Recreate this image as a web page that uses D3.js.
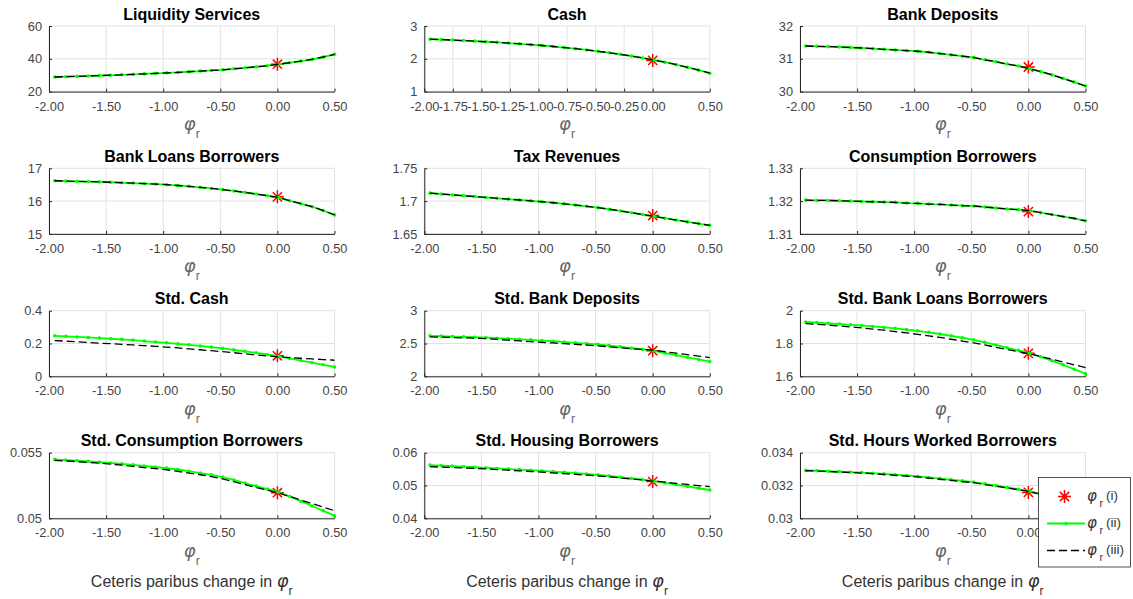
<!DOCTYPE html>
<html><head><meta charset="utf-8">
<script src="https://cdn.jsdelivr.net/npm/d3@7"></script>
<style>
body{margin:0;background:#fff;}
svg{display:block;font-family:"Liberation Sans",Arial,Helvetica,sans-serif;}
</style></head><body>
<svg id="chart" width="1133" height="599"></svg>
<script>
// ---------- data ----------
const phiGrid = [-1.95,-1.852,-1.754,-1.656,-1.558,-1.46,-1.362,-1.264,-1.166,-1.068,-0.97,-0.872,-0.774,-0.676,-0.578,-0.48,-0.382,-0.284,-0.186,-0.088,0.01,0.108,0.206,0.304,0.402,0.5];

const titles = ["Liquidity Services","Cash","Bank Deposits","Bank Loans Borrowers","Tax Revenues","Consumption Borrowers","Std. Cash","Std. Bank Deposits","Std. Bank Loans Borrowers","Std. Consumption Borrowers","Std. Housing Borrowers","Std. Hours Worked Borrowers"];

const xTicksStd = [-2,-1.5,-1,-0.5,0,0.5];
const xTicksCash = [-2,-1.75,-1.5,-1.25,-1,-0.75,-0.5,-0.25,0,0.5];

const yTicksLiquidity = [20,40,60];
const yTicksCash = [1,2,3];
const yTicksDeposits = [30,31,32];
const yTicksLoans = [15,16,17];
const yTicksTax = [1.65,1.7,1.75];
const yTicksCons = [1.31,1.32,1.33];
const yTicksStdCash = [0,0.2,0.4];
const yTicksStdDep = [2,2.5,3];
const yTicksStdLoans = [1.6,1.8,2];
const yTicksStdCons = [0.05,0.055];
const yTicksStdHous = [0.04,0.05,0.06];
const yTicksStdHours = [0.03,0.032,0.034];

// phi_r (i): baseline value at phi_r = 0
const baselinePhi = 0;
const baselineValues = [36.7,1.95,30.75,16.13,1.678,1.3168,0.125,2.39,1.74,0.05195,0.0512,0.03158];

// phi_r (ii)
const liquidityII = [28.9,29.1,29.3,29.5,29.75,30.0,30.25,30.5,30.8,31.1,31.4,31.7,32.1,32.5,32.9,33.3,33.9,34.5,35.1,35.8,36.7,37.6,38.6,39.7,41.1,42.7];
const cashII = [2.597,2.584,2.570,2.555,2.538,2.520,2.501,2.480,2.457,2.432,2.405,2.375,2.343,2.308,2.270,2.229,2.185,2.136,2.083,2.026,1.963,1.896,1.822,1.742,1.655,1.560];
const depositsII = [31.39,31.38,31.37,31.36,31.345,31.33,31.31,31.29,31.27,31.25,31.23,31.20,31.16,31.12,31.08,31.04,30.97,30.91,30.84,30.78,30.70,30.61,30.51,30.40,30.29,30.17];
const loansII = [16.62,16.61,16.60,16.595,16.585,16.575,16.56,16.55,16.535,16.52,16.50,16.475,16.45,16.42,16.385,16.35,16.31,16.265,16.215,16.165,16.11,16.01,15.92,15.83,15.71,15.58];
const taxII = [1.7121,1.7108,1.7095,1.7082,1.7069,1.7056,1.7043,1.7030,1.7017,1.7004,1.6990,1.6975,1.6958,1.6940,1.6921,1.6900,1.6876,1.6850,1.6823,1.6795,1.6767,1.6739,1.6711,1.6683,1.6656,1.6630];
const consII = [1.3203,1.3202,1.3202,1.3201,1.3200,1.3199,1.3198,1.3197,1.3196,1.3194,1.3193,1.3191,1.3190,1.3188,1.3186,1.3185,1.3182,1.3179,1.3176,1.3174,1.3171,1.3165,1.3159,1.3153,1.3147,1.3140];
const stdCashII = [0.247,0.244,0.240,0.237,0.233,0.229,0.225,0.221,0.215,0.209,0.204,0.198,0.192,0.185,0.178,0.170,0.161,0.152,0.143,0.133,0.122,0.109,0.096,0.083,0.070,0.057];
const stdDepII = [2.617,2.612,2.606,2.601,2.595,2.589,2.581,2.573,2.564,2.555,2.545,2.534,2.522,2.510,2.498,2.486,2.468,2.450,2.430,2.410,2.387,2.355,2.322,2.290,2.257,2.224];
const stdLoansII = [1.931,1.927,1.923,1.919,1.914,1.910,1.904,1.898,1.892,1.885,1.877,1.868,1.858,1.847,1.835,1.822,1.807,1.791,1.774,1.758,1.741,1.719,1.695,1.670,1.643,1.616];
const stdConsII = [0.05449,0.05444,0.05439,0.05434,0.05428,0.05422,0.05415,0.05407,0.05399,0.05391,0.05383,0.05372,0.05359,0.05345,0.05331,0.05314,0.05292,0.05269,0.05245,0.05222,0.05200,0.05166,0.05130,0.05094,0.05057,0.05020];
const stdHousII = [0.05624,0.05607,0.05590,0.05573,0.05556,0.05538,0.05520,0.05502,0.05484,0.05466,0.05446,0.05424,0.05401,0.05377,0.05351,0.05325,0.05290,0.05253,0.05215,0.05177,0.05133,0.05079,0.05024,0.04970,0.04916,0.04863];
const stdHoursII = [0.03292,0.03290,0.03287,0.03285,0.03282,0.03279,0.03275,0.03271,0.03266,0.03261,0.03256,0.03249,0.03242,0.03235,0.03228,0.03221,0.03210,0.03199,0.03188,0.03177,0.03166,0.03148,0.03130,0.03112,0.03094,0.03075];

// phi_r (iii)
const liquidityIII = [28.9,29.1,29.3,29.5,29.75,30.0,30.25,30.5,30.8,31.1,31.4,31.7,32.1,32.5,32.9,33.3,33.9,34.5,35.1,35.8,36.7,37.6,38.6,39.7,41.1,42.7];
const cashIII = [2.597,2.584,2.570,2.555,2.538,2.520,2.501,2.480,2.457,2.432,2.405,2.375,2.343,2.308,2.270,2.229,2.185,2.136,2.083,2.026,1.963,1.896,1.822,1.742,1.655,1.560];
const depositsIII = [31.39,31.38,31.37,31.36,31.345,31.33,31.31,31.29,31.27,31.25,31.23,31.20,31.16,31.12,31.08,31.04,30.97,30.91,30.84,30.78,30.70,30.61,30.51,30.40,30.29,30.17];
const loansIII = [16.62,16.61,16.60,16.595,16.585,16.575,16.56,16.55,16.535,16.52,16.50,16.475,16.45,16.42,16.385,16.35,16.31,16.265,16.215,16.165,16.11,16.01,15.92,15.83,15.71,15.58];
const taxIII = [1.7121,1.7108,1.7095,1.7082,1.7069,1.7056,1.7043,1.7030,1.7017,1.7004,1.6990,1.6975,1.6958,1.6940,1.6921,1.6900,1.6876,1.6850,1.6823,1.6795,1.6767,1.6739,1.6711,1.6683,1.6656,1.6630];
const consIII = [1.3203,1.3202,1.3202,1.3201,1.3200,1.3199,1.3198,1.3197,1.3196,1.3194,1.3193,1.3191,1.3190,1.3188,1.3186,1.3185,1.3182,1.3179,1.3176,1.3174,1.3171,1.3165,1.3159,1.3153,1.3147,1.3140];
const stdCashIII = [0.218,0.214,0.210,0.206,0.202,0.199,0.195,0.191,0.187,0.183,0.178,0.173,0.167,0.162,0.156,0.150,0.144,0.137,0.130,0.124,0.118,0.114,0.110,0.106,0.102,0.098];
const stdDepIII = [2.602,2.597,2.591,2.586,2.580,2.573,2.562,2.551,2.540,2.529,2.518,2.508,2.497,2.487,2.476,2.465,2.450,2.435,2.421,2.410,2.397,2.375,2.352,2.330,2.308,2.286];
const stdLoansIII = [1.922,1.917,1.912,1.907,1.901,1.895,1.888,1.881,1.873,1.865,1.856,1.846,1.837,1.826,1.815,1.804,1.791,1.777,1.763,1.750,1.738,1.721,1.704,1.687,1.670,1.653];
const stdConsIII = [0.05442,0.05437,0.05432,0.05426,0.05420,0.05413,0.05405,0.05396,0.05387,0.05378,0.05370,0.05358,0.05345,0.05332,0.05318,0.05300,0.05279,0.05257,0.05235,0.05215,0.05193,0.05166,0.05139,0.05112,0.05085,0.05058];
const stdHousIII = [0.05574,0.05561,0.05548,0.05535,0.05521,0.05506,0.05487,0.05468,0.05448,0.05427,0.05405,0.05383,0.05361,0.05339,0.05317,0.05294,0.05263,0.05231,0.05199,0.05168,0.05134,0.05100,0.05066,0.05032,0.04998,0.04964];
const stdHoursIII = [0.03290,0.03288,0.03285,0.03282,0.03279,0.03276,0.03272,0.03267,0.03262,0.03257,0.03252,0.03245,0.03238,0.03231,0.03224,0.03217,0.03206,0.03195,0.03185,0.03174,0.03163,0.03146,0.03129,0.03113,0.03096,0.03080];

const legendLabels = ["(i)","(ii)","(iii)"];
const bottomLabel = "Ceteris paribus change in ";

// ---------- layout ----------
const panels = [
  {ii:liquidityII, iii:liquidityIII, yTicks:yTicksLiquidity, xTicks:xTicksStd},
  {ii:cashII, iii:cashIII, yTicks:yTicksCash, xTicks:xTicksCash},
  {ii:depositsII, iii:depositsIII, yTicks:yTicksDeposits, xTicks:xTicksStd},
  {ii:loansII, iii:loansIII, yTicks:yTicksLoans, xTicks:xTicksStd},
  {ii:taxII, iii:taxIII, yTicks:yTicksTax, xTicks:xTicksStd},
  {ii:consII, iii:consIII, yTicks:yTicksCons, xTicks:xTicksStd},
  {ii:stdCashII, iii:stdCashIII, yTicks:yTicksStdCash, xTicks:xTicksStd},
  {ii:stdDepII, iii:stdDepIII, yTicks:yTicksStdDep, xTicks:xTicksStd},
  {ii:stdLoansII, iii:stdLoansIII, yTicks:yTicksStdLoans, xTicks:xTicksStd},
  {ii:stdConsII, iii:stdConsIII, yTicks:yTicksStdCons, xTicks:xTicksStd},
  {ii:stdHousII, iii:stdHousIII, yTicks:yTicksStdHous, xTicks:xTicksStd},
  {ii:stdHoursII, iii:stdHoursIII, yTicks:yTicksStdHours, xTicks:xTicksStd, hiddenLabel:0.5}
];

const svg = d3.select("#chart");
const colLeft = [49, 424.3, 800], colW = 285.5;
const rowTop = [26, 168.3, 310.7, 452.7], rowH = 65.6;
const axisColor = "#262626", gridColor = "#e2e2e2", tickColor = "#444";
const green = "#00ff00", red = "#ff0000";
const starPath = "M-6.5,0H6.5M0,-6.5V6.5M-4.6,-4.6L4.6,4.6M-4.6,4.6L4.6,-4.6";

function phiText(sel, x, y, size, color, pre, preSize) {
  const t = sel.append("text").attr("x", x).attr("y", y)
    .attr("text-anchor", "middle").attr("fill", color);
  if (pre) t.append("tspan").attr("font-size", preSize).text(pre);
  t.append("tspan").attr("font-style", "italic").attr("font-size", size)
    .attr("font-family", "'DejaVu Sans',sans-serif").attr("font-weight", 300).text("φ");
  t.append("tspan").attr("font-size", size * 0.68).attr("dy", size * 0.45).text("r");
  return t;
}

panels.forEach((p, i) => {
  const c = i % 3, r = Math.floor(i / 3);
  const g = svg.append("g").attr("transform", `translate(${colLeft[c]},${rowTop[r]})`);
  const x = d3.scaleLinear().domain([-2, 0.5]).range([0, colW]);
  const y = d3.scaleLinear().domain(d3.extent(p.yTicks)).range([rowH, 0]);

  // grid
  g.selectAll("line.gx").data(p.xTicks).join("line").attr("class", "gx")
    .attr("x1", d => x(d)).attr("x2", d => x(d)).attr("y1", 0).attr("y2", rowH)
    .attr("stroke", gridColor).attr("stroke-width", 1);
  g.selectAll("line.gy").data(p.yTicks).join("line").attr("class", "gy")
    .attr("x1", 0).attr("x2", colW).attr("y1", d => y(d)).attr("y2", d => y(d))
    .attr("stroke", gridColor).attr("stroke-width", 1);

  // axes
  const xa = g.append("g").attr("transform", `translate(0,${rowH})`)
    .call(d3.axisBottom(x).tickValues(p.xTicks)
      .tickFormat(d => (p.hiddenLabel === d ? "" : d.toFixed(2)))
      .tickSize(-3).tickSizeOuter(0).tickPadding(10));
  const ya = g.append("g")
    .call(d3.axisLeft(y).tickValues(p.yTicks).tickFormat(d => String(d))
      .tickSize(-3).tickSizeOuter(0).tickPadding(7));
  [xa, ya].forEach(a => {
    a.select(".domain").attr("stroke", axisColor).attr("stroke-width", 1);
    a.selectAll(".tick line").attr("stroke", axisColor);
    a.selectAll(".tick text").attr("fill", tickColor).attr("font-size", 12.8)
      .attr("font-family", "'Liberation Sans',Arial,sans-serif");
  });

  // (i) marker
  g.append("path").attr("d", starPath)
    .attr("transform", `translate(${x(baselinePhi)},${y(baselineValues[i])})`)
    .attr("stroke", red).attr("stroke-width", 1.5).attr("fill", "none");

  // (ii) green line with dots
  const pts2 = phiGrid.map((v, k) => [v, p.ii[k]]);
  const line = d3.line().x(d => x(d[0])).y(d => y(d[1]));
  g.append("path").attr("d", line(pts2)).attr("fill", "none")
    .attr("stroke", green).attr("stroke-width", 1.8);
  g.selectAll("circle.dot").data(pts2).join("circle").attr("class", "dot")
    .attr("cx", d => x(d[0])).attr("cy", d => y(d[1])).attr("r", 1.8).attr("fill", green);

  // (iii) dashed line
  const pts3 = phiGrid.map((v, k) => [v, p.iii[k]]);
  g.append("path").attr("d", line(pts3)).attr("fill", "none")
    .attr("stroke", "#000").attr("stroke-width", 1.3).attr("stroke-dasharray", "8,4");

  // title
  g.append("text").attr("x", colW / 2).attr("y", -6.5).attr("text-anchor", "middle")
    .attr("font-weight", "bold").attr("font-size", 16).attr("fill", "#000").text(titles[i]);

  // x label
  phiText(g, colW / 2, rowH + 38.5, 18, "#666", null, 0);
  if (r === 3) {
    phiText(g, colW / 2, 586.7 - rowTop[r], 18, "#333", bottomLabel, 16);
  }
});

// legend
const lg = svg.append("g").attr("transform", "translate(1038.5,477.5)");
lg.append("rect").attr("width", 92).attr("height", 89.5).attr("fill", "#fff")
  .attr("stroke", axisColor).attr("stroke-width", 0.8);
const rowsY = [19, 46, 73];
lg.append("path").attr("d", starPath).attr("transform", `translate(26,${rowsY[0]})`)
  .attr("stroke", red).attr("stroke-width", 1.5).attr("fill", "none");
lg.append("line").attr("x1", 8.5).attr("x2", 46.5).attr("y1", rowsY[1]).attr("y2", rowsY[1])
  .attr("stroke", green).attr("stroke-width", 1.8);
lg.append("circle").attr("cx", 27.5).attr("cy", rowsY[1]).attr("r", 1.8).attr("fill", green);
lg.append("line").attr("x1", 8.5).attr("x2", 46.5).attr("y1", rowsY[2]).attr("y2", rowsY[2])
  .attr("stroke", "#000").attr("stroke-width", 1.3).attr("stroke-dasharray", "8,4");
legendLabels.forEach((lab, k) => {
  lg.append("text").attr("x", 48.5).attr("y", rowsY[k] + 4).attr("fill", "#333")
    .attr("font-style", "italic").attr("font-size", 15).attr("font-weight", 300)
    .attr("font-family", "'DejaVu Sans',sans-serif").text("φ");
  lg.append("text").attr("x", 61).attr("y", rowsY[k] + 10).attr("fill", "#333")
    .attr("font-size", 10.5).text("r");
  lg.append("text").attr("x", 67.5).attr("y", rowsY[k] + 3).attr("fill", "#333")
    .attr("font-size", 13.5).text(lab);
});
</script>
</body></html>
